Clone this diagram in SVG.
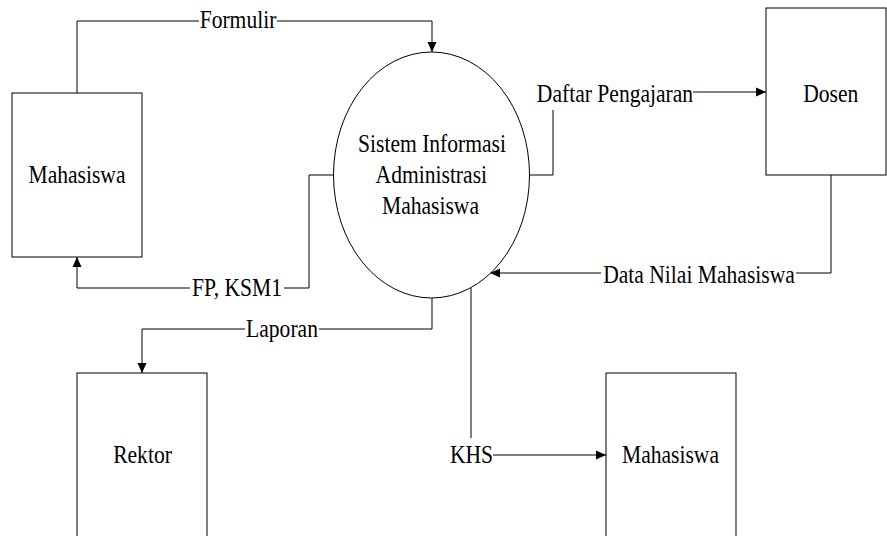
<svg xmlns="http://www.w3.org/2000/svg" width="887" height="536" viewBox="0 0 887 536">
<defs>
<marker id="arr" viewBox="0 0 10 10" refX="10" refY="5" markerWidth="10" markerHeight="10" markerUnits="userSpaceOnUse" orient="auto">
<path d="M0,0.5 L10,5 L0,9.5 Z" fill="#000"/>
</marker>
<style>
.box{fill:#fff;stroke:#000;stroke-width:1}
.ln{fill:none;stroke:#000;stroke-width:1}
</style>
</defs>
<rect width="887" height="536" fill="#fff"/>
<g id="connectors">
<polyline class="ln" points="77,93 77,21 199,21"/>
<polyline class="ln" points="277,21 432,21 432,52" marker-end="url(#arr)"/>
<polyline class="ln" points="530,175 553,175 553,110"/>
<line class="ln" x1="693" y1="92" x2="766" y2="92" marker-end="url(#arr)"/>
<polyline class="ln" points="831,175 831,273 796,273"/>
<line class="ln" x1="601" y1="273" x2="490" y2="273" marker-end="url(#arr)"/>
<polyline class="ln" points="333,175 309,175 309,288 284,288"/>
<polyline class="ln" points="190,288 77,288 77,257" marker-end="url(#arr)"/>
<polyline class="ln" points="432,298 432,329 319,329"/>
<polyline class="ln" points="245,329 142,329 142,373" marker-end="url(#arr)"/>
<line class="ln" x1="471" y1="288" x2="471" y2="438"/>
<line class="ln" x1="493" y1="455" x2="606" y2="455" marker-end="url(#arr)"/>
<text font-family="Liberation Serif" font-size="26" text-anchor="middle" transform="translate(238,28) scale(0.83,1)">Formulir</text>
<text font-family="Liberation Serif" font-size="26" text-anchor="middle" transform="translate(615,101.7) scale(0.83,1)">Daftar Pengajaran</text>
<text font-family="Liberation Serif" font-size="26" text-anchor="middle" transform="translate(699,282.7) scale(0.83,1)">Data Nilai Mahasiswa</text>
<text font-family="Liberation Serif" font-size="26" text-anchor="middle" transform="translate(237,295.7) scale(0.83,1)">FP, KSM1</text>
<text font-family="Liberation Serif" font-size="26" text-anchor="middle" transform="translate(282,337.3) scale(0.83,1)">Laporan</text>
<text font-family="Liberation Serif" font-size="26" text-anchor="middle" transform="translate(471.5,463.3) scale(0.83,1)">KHS</text>
</g>
<g id="mahasiswa1">
<rect class="box" x="12" y="93" width="130" height="164"/>
<text font-family="Liberation Serif" font-size="26" text-anchor="middle" transform="translate(77,183.3) scale(0.83,1)">Mahasiswa</text>
</g>
<g id="sistem">
<ellipse class="box" cx="431.5" cy="175" rx="98" ry="123"/>
<text font-family="Liberation Serif" font-size="26" text-anchor="middle" transform="translate(432,151.7) scale(0.83,1)">Sistem Informasi</text>
<text font-family="Liberation Serif" font-size="26" text-anchor="middle" transform="translate(431.3,183) scale(0.83,1)">Administrasi</text>
<text font-family="Liberation Serif" font-size="26" text-anchor="middle" transform="translate(430.5,213.8) scale(0.83,1)">Mahasiswa</text>
</g>
<g id="dosen">
<rect class="box" x="766" y="8" width="120" height="167"/>
<text font-family="Liberation Serif" font-size="26" text-anchor="middle" transform="translate(830.8,101.7) scale(0.83,1)">Dosen</text>
</g>
<g id="rektor">
<rect class="box" x="77" y="373" width="130" height="170"/>
<text font-family="Liberation Serif" font-size="26" text-anchor="middle" transform="translate(142.5,463) scale(0.83,1)">Rektor</text>
</g>
<g id="mahasiswa2">
<rect class="box" x="606" y="373" width="130" height="170"/>
<text font-family="Liberation Serif" font-size="26" text-anchor="middle" transform="translate(670.5,463.3) scale(0.83,1)">Mahasiswa</text>
</g>
</svg>
